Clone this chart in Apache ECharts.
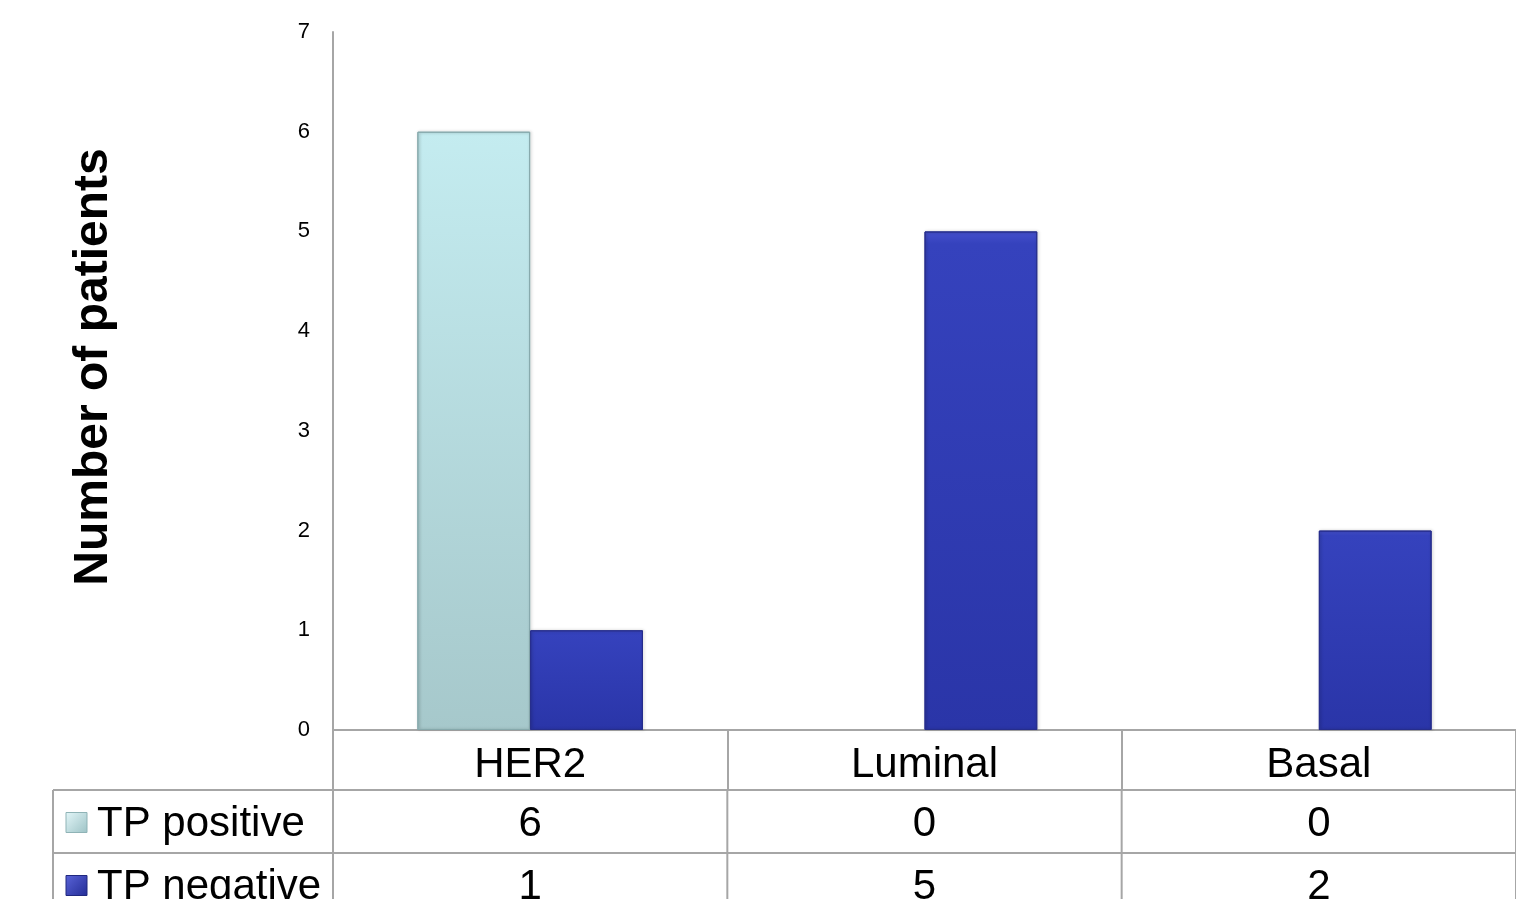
<!DOCTYPE html>
<html>
<head>
<meta charset="utf-8">
<script src="https://cdn.jsdelivr.net/npm/echarts@6/dist/echarts.min.js"></script>
<style>
  html, body { margin: 0; padding: 0; background: #fff; }
  #chart { width: 1516px; height: 899px; }
</style>
</head>
<body>
<div id="chart"></div>
<script>
// Patient counts per subtype
const categories = ['HER2', 'Luminal', 'Basal'];
const seriesNames = ['TP positive', 'TP negative'];
const tpPositive = [6, 0, 0];
const tpNegative = [1, 5, 2];
const yTicks = [0, 1, 2, 3, 4, 5, 6, 7];
const yTitle = 'Number of patients';

const FONT = '"Liberation Sans", Arial, sans-serif';
const LINE = '#a6a6a6';

const posFill = new echarts.graphic.LinearGradient(0, 0, 0, 1, [
  { offset: 0, color: '#c4ecf0' },
  { offset: 1, color: '#a6c8cb' }
]);
const negFill = new echarts.graphic.LinearGradient(0, 0, 0, 1, [
  { offset: 0, color: '#4550cc' },
  { offset: 0.025, color: '#3542bd' },
  { offset: 1, color: '#2a35a8' }
]);
const posKey = new echarts.graphic.LinearGradient(0, 0, 1, 1, [
  { offset: 0, color: '#e4f7f9' },
  { offset: 1, color: '#9cc2c5' }
]);
const negKey = new echarts.graphic.LinearGradient(0, 0, 1, 1, [
  { offset: 0, color: '#5a64d8' },
  { offset: 1, color: '#232c96' }
]);

// Zero-height bars get no outline so nothing is drawn for them
function barData(values) {
  return values.map((v) => (v === 0
    ? { value: v, itemStyle: { borderWidth: 0, shadowBlur: 0, opacity: 0 } }
    : v));
}

const chart = echarts.init(document.getElementById('chart'), null, { renderer: 'canvas' });

const GRID = { left: 333, top: 32, width: 1185, height: 698 };

chart.setOption({
  animation: false,
  textStyle: { fontFamily: FONT },
  grid: GRID,
  xAxis: {
    type: 'category',
    data: categories,
    axisLine: { show: true, lineStyle: { color: LINE, width: 2 } },
    axisTick: { show: true, interval: 0, length: 60, lineStyle: { color: LINE, width: 2 } },
    axisLabel: { fontSize: 42, color: '#000', margin: 14, fontFamily: FONT },
    splitLine: { show: false }
  },
  yAxis: {
    type: 'value',
    min: yTicks[0],
    max: yTicks[yTicks.length - 1],
    interval: 1,
    axisLine: { show: true, lineStyle: { color: LINE, width: 2 } },
    axisTick: { show: false },
    axisLabel: { fontSize: 22, color: '#000', margin: 23, fontFamily: FONT },
    splitLine: { show: false }
  },
  series: [
    {
      name: seriesNames[0],
      type: 'bar',
      data: barData(tpPositive),
      barGap: '0%',
      barCategoryGap: '42.8%',
      itemStyle: {
        color: posFill,
        borderColor: '#86a9ac',
        borderWidth: 1,
        shadowColor: 'rgba(0,0,0,0.25)',
        shadowBlur: 3,
        shadowOffsetX: 1
      }
    },
    {
      name: seriesNames[1],
      type: 'bar',
      data: barData(tpNegative),
      barGap: '0%',
      barCategoryGap: '42.8%',
      itemStyle: {
        color: negFill,
        borderColor: '#262d8c',
        borderWidth: 1,
        shadowColor: 'rgba(0,0,0,0.25)',
        shadowBlur: 3,
        shadowOffsetX: 1
      }
    }
  ]
});

// Data table under the plot, laid out on the category axis
function buildTable() {
  const baseY = chart.convertToPixel({ yAxisIndex: 0 }, 0);
  const centers = categories.map((c) => chart.convertToPixel({ xAxisIndex: 0 }, c));
  const band = centers.length > 1 ? centers[1] - centers[0] : GRID.width;
  const bounds = centers.map((cx) => cx - band / 2);
  bounds.push(centers[centers.length - 1] + band / 2);

  const headerBottom = baseY + 60;
  const rowH = 63;
  const tableLeft = 53;
  const tableRight = 1516;
  const rows = [
    { name: seriesNames[0], values: tpPositive, key: posKey, keyStroke: '#8fb3b6' },
    { name: seriesNames[1], values: tpNegative, key: negKey, keyStroke: '#20287f' }
  ];
  const els = [];
  const line = (x1, y1, x2, y2) => ({
    type: 'line',
    shape: { x1, y1, x2, y2 },
    style: { stroke: LINE, lineWidth: 2 },
    silent: true
  });

  rows.forEach((row, i) => {
    const top = headerBottom + i * rowH;
    const mid = top + rowH / 2 + 3;
    els.push(line(tableLeft, top, tableRight, top));
    els.push({
      type: 'rect',
      shape: { x: 66, y: mid - 12, width: 21, height: 20 },
      style: { fill: row.key, stroke: row.keyStroke, lineWidth: 1 },
      silent: true
    });
    els.push({
      type: 'text',
      style: {
        text: row.name, x: 97, y: mid, fill: '#000',
        font: '42px ' + FONT, textAlign: 'left', textVerticalAlign: 'middle'
      },
      silent: true
    });
    row.values.forEach((v, j) => {
      els.push({
        type: 'text',
        style: {
          text: String(v), x: centers[j], y: mid, fill: '#000',
          font: '42px ' + FONT, textAlign: 'center', textVerticalAlign: 'middle'
        },
        silent: true
      });
    });
  });
  els.push(line(tableLeft, headerBottom, tableLeft, 899));
  bounds.forEach((bx) => els.push(line(bx, headerBottom, bx, 899)));

  // Rotated y-axis title
  els.push({
    type: 'text',
    x: 94,
    y: 367,
    rotation: Math.PI / 2,
    style: {
      text: yTitle, fill: '#000',
      font: 'bold 48px ' + FONT, textAlign: 'center', textVerticalAlign: 'middle'
    },
    silent: true
  });

  chart.setOption({ graphic: els });
}
buildTable();
</script>
</body>
</html>
